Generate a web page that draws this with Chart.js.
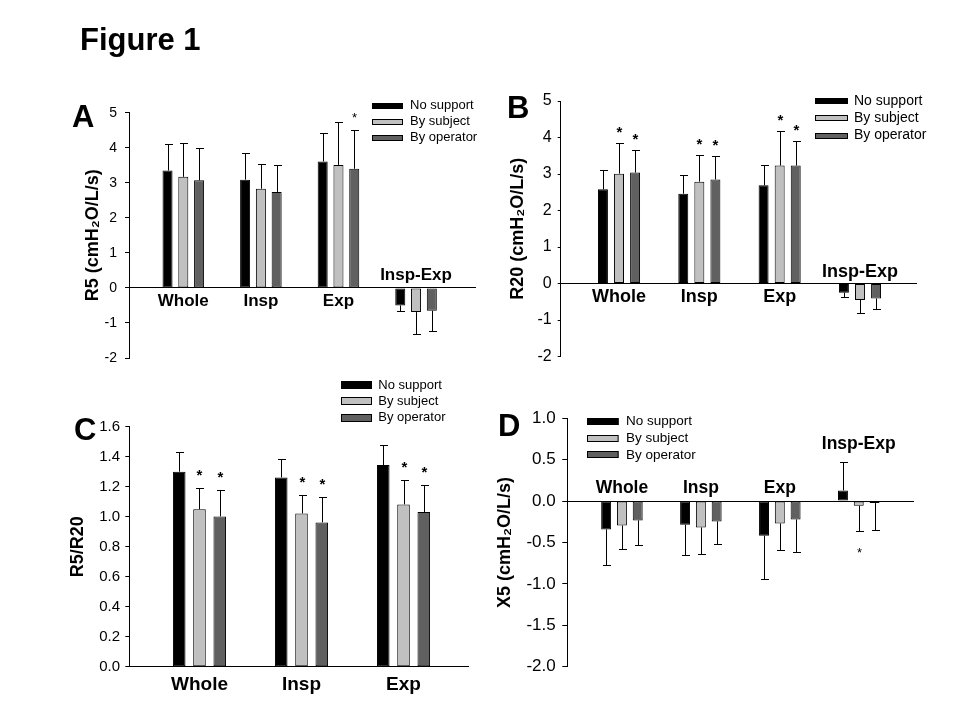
<!DOCTYPE html>
<html><head><meta charset="utf-8">
<script src="https://cdn.jsdelivr.net/npm/chart.js@4.4.0/dist/chart.umd.min.js"></script>
<style>
html,body{margin:0;padding:0;background:#fff;}
#wrap{position:relative;width:960px;height:720px;overflow:hidden;font-family:"Liberation Sans",Arial,sans-serif;}
canvas{position:absolute;left:0;top:0;}
.lbl{position:absolute;font-weight:bold;line-height:1;white-space:nowrap;color:#000;font-size:31px;}
</style></head>
<body><div id="wrap">
<canvas id="cA" width="960" height="720"></canvas>
<canvas id="cB" width="960" height="720"></canvas>
<canvas id="cC" width="960" height="720"></canvas>
<canvas id="cD" width="960" height="720"></canvas>
<div class="lbl" style="left:80px;top:24px;">Figure 1</div>
<div class="lbl" style="left:72px;top:101px;">A</div>
<div class="lbl" style="left:507px;top:92px;">B</div>
<div class="lbl" style="left:74px;top:414px;">C</div>
<div class="lbl" style="left:498px;top:410px;">D</div>
</div>
<script>
// ---------- data ----------
const seriesNames = ['No support', 'By subject', 'By operator'];
const groups4 = ['Whole', 'Insp', 'Exp', 'Insp-Exp'];
const groups3 = ['Whole', 'Insp', 'Exp'];
const groupPos4 = [1, 2, 3, 4];
const groupPos3 = [1, 2, 3];

// Panel A: R5
const r5NoSupport  = [3.35, 3.09, 3.61, -0.50];
const r5BySubject  = [3.17, 2.83, 3.51, -0.69];
const r5ByOperator = [3.07, 2.74, 3.40, -0.65];
const r5SdNoSupport  = [0.77, 0.75, 0.82, 0.15];
const r5SdBySubject  = [0.96, 0.71, 1.22, 0.62];
const r5SdByOperator = [0.93, 0.77, 1.10, 0.57];
const r5SigBySubject  = [false, false, false, false];
const r5SigByOperator = [false, false, true, false];
const r5Ticks = [-2, -1, 0, 1, 2, 3, 4, 5];

// Panel B: R20
const r20NoSupport  = [2.58, 2.46, 2.69, -0.25];
const r20BySubject  = [3.01, 2.79, 3.23, -0.45];
const r20ByOperator = [3.04, 2.85, 3.23, -0.41];
const r20SdNoSupport  = [0.54, 0.52, 0.56, 0.12];
const r20SdBySubject  = [0.83, 0.74, 0.96, 0.36];
const r20SdByOperator = [0.63, 0.63, 0.68, 0.29];
const r20SigBySubject  = [true, true, true, false];
const r20SigByOperator = [true, true, true, false];
const r20Ticks = [-2, -1, 0, 1, 2, 3, 4, 5];

// Panel C: R5/R20
const ratioNoSupport  = [1.300, 1.262, 1.344];
const ratioBySubject  = [1.049, 1.022, 1.082];
const ratioByOperator = [1.002, 0.962, 1.031];
const ratioSdNoSupport  = [0.129, 0.125, 0.132];
const ratioSdBySubject  = [0.140, 0.125, 0.160];
const ratioSdByOperator = [0.178, 0.167, 0.178];
const ratioSigBySubject  = [true, true, true];
const ratioSigByOperator = [true, true, true];
const ratioTicks = [0.0, 0.2, 0.4, 0.6, 0.8, 1.0, 1.2, 1.4, 1.6];

// Panel D: X5
const x5NoSupport  = [-0.342, -0.286, -0.418, 0.129];
const x5BySubject  = [-0.294, -0.318, -0.270, -0.056];
const x5ByOperator = [-0.233, -0.245, -0.221, -0.024];
const x5SdNoSupport  = [0.435, 0.370, 0.528, 0.338];
const x5SdBySubject  = [0.289, 0.326, 0.326, 0.310];
const x5SdByOperator = [0.302, 0.278, 0.399, 0.326];
const x5SigBySubject  = [false, false, false, true];
const x5SigByOperator = [false, false, false, false];
const x5Ticks = [-2.0, -1.5, -1.0, -0.5, 0.0, 0.5, 1.0];

const noSig4 = [false, false, false, false];
const noSig3 = [false, false, false];

// ---------- styling ----------
const FONT = '"Liberation Sans", Arial, sans-serif';
Chart.defaults.font.family = FONT;
Chart.defaults.color = '#000';
const seriesColors = ['#000000', '#c0c0c0', '#606060'];

const annot = {
  id: 'annot',
  afterDatasetsDraw(chart, args, o) {
    const ctx = chart.ctx, ys = chart.scales.y, xs = chart.scales.x;
    ctx.save();
    ctx.strokeStyle = '#000';
    ctx.fillStyle = '#000';
    ctx.lineWidth = 1;
    // error bars and significance marks
    chart.data.datasets.forEach((ds, d) => {
      const meta = chart.getDatasetMeta(d);
      ds.data.forEach((pt, i) => {
        const el = meta.data[i];
        const v = pt.y, e = ds.err[i];
        const end = v >= 0 ? v + e : v - e;
        const yEnd = Math.round(ys.getPixelForValue(end)) + 0.5;
        const x = Math.round(el.x) + 0.5;
        ctx.beginPath();
        ctx.moveTo(x, el.y);
        ctx.lineTo(x, yEnd);
        ctx.moveTo(x - o.cap, yEnd);
        ctx.lineTo(x + o.cap + 1, yEnd);
        ctx.stroke();
        if (ds.sig[i]) {
          ctx.font = o.starFont;
          ctx.textAlign = 'center';
          ctx.textBaseline = 'alphabetic';
          const fs = parseFloat(o.starFont.match(/([\d.]+)px/)[1]);
          const cy = v >= 0 ? yEnd - o.starGap : yEnd + o.starGap;
          ctx.fillText('*', x, cy + 0.58 * fs);
        }
      });
    });
    // category labels
    const y0 = ys.getPixelForValue(0);
    ctx.font = o.catFont;
    ctx.textAlign = 'center';
    ctx.textBaseline = 'middle';
    o.cats.forEach((c, i) => {
      ctx.fillText(c, xs.getPixelForValue(o.pos[i]), y0 + o.labelDy[i]);
    });
    // legend
    const L = o.legend;
    ctx.font = L.font;
    ctx.textAlign = 'left';
    ctx.textBaseline = 'middle';
    chart.data.datasets.forEach((ds, d) => {
      const cy = L.y0 + d * L.dy;
      const top = Math.round(cy - L.boxH / 2);
      ctx.fillStyle = ds.backgroundColor;
      ctx.fillRect(L.boxX, top, L.boxW, L.boxH);
      ctx.strokeStyle = '#000';
      ctx.strokeRect(Math.round(L.boxX) + 0.5, top + 0.5, L.boxW - 1, L.boxH - 1);
      ctx.fillStyle = '#000';
      ctx.fillText(ds.label, L.textX, cy);
    });
    ctx.restore();
  }
};

function makePanel(id, p) {
  const datasets = p.series.map((vals, d) => ({
    label: seriesNames[d],
    data: vals.map((v, i) => ({ x: p.pos[i], y: v })),
    err: p.sd[d],
    sig: p.sig[d],
    backgroundColor: seriesColors[d],
    borderColor: '#000',
    borderWidth: 1,
    borderSkipped: false,
    categoryPercentage: p.catPct,
    barPercentage: p.barPct
  }));
  new Chart(document.getElementById(id), {
    type: 'bar',
    data: { datasets },
    plugins: [annot],
    options: {
      responsive: false,
      animation: false,
      events: [],
      layout: { padding: { left: p.scaleLeft, top: p.area.top, right: 960 - p.area.right, bottom: 720 - p.area.bottom } },
      plugins: {
        legend: { display: false },
        tooltip: { enabled: false },
        annot: {
          cats: p.cats, pos: p.pos, labelDy: p.labelDy, catFont: p.catFont,
          starFont: p.starFont, starGap: p.starGap, cap: 3.5, legend: p.legend
        }
      },
      scales: {
        x: {
          type: 'linear', min: p.xMin, max: p.xMax, offset: false,
          position: { y: 0 },
          afterBuildTicks: s => { s.ticks = p.pos.map(v => ({ value: v })); },
          grid: { display: false },
          border: { display: true, color: '#000', width: 1 },
          ticks: { display: false },
          afterFit: s => { s.height = 0; }
        },
        y: {
          type: 'linear', position: 'left',
          min: p.ticks[0], max: p.ticks[p.ticks.length - 1],
          afterBuildTicks: s => { s.ticks = p.ticks.map(v => ({ value: v })); },
          ticks: {
            color: '#000', padding: p.tickPad,
            font: { size: p.tickSize, family: FONT },
            callback: v => Number(v).toFixed(p.dec)
          },
          grid: { drawOnChartArea: false, drawTicks: true, tickLength: p.tickLen, color: '#000' },
          border: { display: true, color: '#000', width: 1 },
          title: {
            display: true, text: p.title, color: '#000',
            font: { size: 18, weight: 'bold', family: FONT },
            padding: { top: 4, bottom: 4 }
          },
          afterFit: s => { s.width = p.area.left - p.scaleLeft; }
        }
      }
    }
  });
}

makePanel('cA', {
  series: [r5NoSupport, r5BySubject, r5ByOperator],
  sd: [r5SdNoSupport, r5SdBySubject, r5SdByOperator],
  sig: [noSig4, r5SigBySubject, r5SigByOperator],
  cats: groups4, pos: groupPos4, ticks: r5Ticks, dec: 0,
  title: 'R5 (cmH\u2082O/L/s)',
  area: { left: 129, right: 475, top: 112.7, bottom: 358 }, scaleLeft: 78.2,
  xMin: 0.3, xMax: 4.76, catPct: 0.61, barPct: 0.635,
  tickSize: 14, tickPad: 8, tickLen: 4,
  labelDy: [13.4, 13.4, 13.4, -13], catFont: 'bold 17px ' + FONT,
  starFont: '13px ' + FONT, starGap: 15.7,
  legend: { boxX: 372, boxW: 31, boxH: 6, textX: 410, y0: 105.6, dy: 16, font: '13px ' + FONT }
});

makePanel('cB', {
  series: [r20NoSupport, r20BySubject, r20ByOperator],
  sd: [r20SdNoSupport, r20SdBySubject, r20SdByOperator],
  sig: [noSig4, r20SigBySubject, r20SigByOperator],
  cats: groups4, pos: groupPos4, ticks: r20Ticks, dec: 0,
  title: 'R20 (cmH\u2082O/L/s)',
  area: { left: 560.7, right: 916.7, top: 101, bottom: 356.5 }, scaleLeft: 503.2,
  xMin: 0.274, xMax: 4.706, catPct: 0.60, barPct: 0.62,
  tickSize: 16, tickPad: 6, tickLen: 3,
  labelDy: [13.4, 13.4, 13.4, -11], catFont: 'bold 18px ' + FONT,
  starFont: 'bold 15px ' + FONT, starGap: 15.3,
  legend: { boxX: 815, boxW: 33, boxH: 6, textX: 854, y0: 101, dy: 17.3, font: '14px ' + FONT }
});

makePanel('cC', {
  series: [ratioNoSupport, ratioBySubject, ratioByOperator],
  sd: [ratioSdNoSupport, ratioSdBySubject, ratioSdByOperator],
  sig: [noSig3, ratioSigBySubject, ratioSigByOperator],
  cats: groups3, pos: groupPos3, ticks: ratioTicks, dec: 1,
  title: 'R5/R20',
  area: { left: 129.3, right: 468.3, top: 426.7, bottom: 666.7 }, scaleLeft: 63.2,
  xMin: 0.312, xMax: 3.635, catPct: 0.596, barPct: 0.62,
  tickSize: 15, tickPad: 5.3, tickLen: 4,
  labelDy: [18.3, 18.3, 18.3], catFont: 'bold 19px ' + FONT,
  starFont: 'bold 15px ' + FONT, starGap: 17,
  legend: { boxX: 341, boxW: 31, boxH: 8, textX: 378.3, y0: 385, dy: 16.3, font: '13px ' + FONT }
});

makePanel('cD', {
  series: [x5NoSupport, x5BySubject, x5ByOperator],
  sd: [x5SdNoSupport, x5SdBySubject, x5SdByOperator],
  sig: [noSig4, x5SigBySubject, x5SigByOperator],
  cats: groups4, pos: groupPos4, ticks: x5Ticks, dec: 1,
  title: 'X5 (cmH\u2082O/L/s)',
  area: { left: 567.3, right: 913.3, top: 418.3, bottom: 666.7 }, scaleLeft: 490.2,
  xMin: 0.308, xMax: 4.691, catPct: 0.60, barPct: 0.63,
  tickSize: 17, tickPad: 6.6, tickLen: 5,
  labelDy: [-12.7, -12.7, -12.7, -57], catFont: 'bold 17.5px ' + FONT,
  starFont: '13px ' + FONT, starGap: 18,
  legend: { boxX: 587, boxW: 31.6, boxH: 7, textX: 626, y0: 421.3, dy: 16.8, font: '13.5px ' + FONT }
});
</script>
</body></html>
